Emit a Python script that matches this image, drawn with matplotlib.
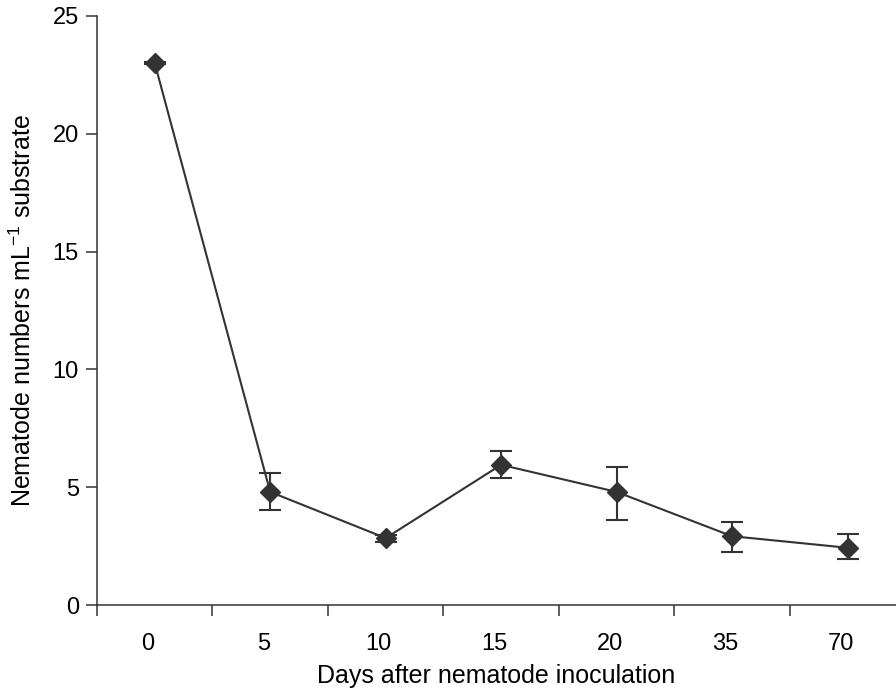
import matplotlib
matplotlib.use("Agg")
import matplotlib.pyplot as plt
import matplotlib.transforms as mtransforms
import numpy as np

plt.rcParams['font.family'] = ['Liberation Sans', 'DejaVu Sans']
plt.rcParams['mathtext.fontset'] = 'custom'
plt.rcParams['mathtext.rm'] = 'Liberation Sans'
plt.rcParams['mathtext.it'] = 'Liberation Sans:italic'

days = ["0", "5", "10", "15", "20", "35", "70"]
nematodes = [23.0, 4.8, 2.84, 5.95, 4.8, 2.92, 2.43]
err_low = [0.05, 0.78, 0.15, 0.56, 1.2, 0.67, 0.48]
err_high = [0.05, 0.8, 0.12, 0.6, 1.06, 0.6, 0.58]

dark = "#333333"

fig = plt.figure(figsize=(8.96, 6.97), dpi=100)
ax = fig.add_axes([97 / 896, 92 / 697, 799 / 896, 589 / 697])

x = np.arange(len(days))
ax.errorbar(x, nematodes, yerr=[err_low, err_high], color=dark, lw=1.5,
            marker='D', ms=10.5, mfc=dark, mec=dark, ecolor=dark,
            elinewidth=1.5, capsize=8, capthick=1.5, zorder=3)

ax.set_xlim(-0.5, 6.42)
ax.set_ylim(0, 25)
ax.set_yticks([0, 5, 10, 15, 20, 25])

ax.set_xticks(x)
ax.set_xticklabels(days)
ax.set_xticks(np.arange(-0.5, 6, 1), minor=True)
ax.tick_params(axis='x', which='major', length=0, pad=20, labelsize=17)
ax.tick_params(axis='x', which='minor', length=8, width=1.1, color=dark)
ax.tick_params(axis='y', length=8, width=1.1, color=dark, pad=5, labelsize=17)

# labels sit a little left of the category centres in the original
shift = mtransforms.ScaledTranslation(-7 / 100, 0, fig.dpi_scale_trans)
for lbl in ax.get_xticklabels():
    lbl.set_transform(lbl.get_transform() + shift)

for s in ['top', 'right']:
    ax.spines[s].set_visible(False)
for s in ['left', 'bottom']:
    ax.spines[s].set_color(dark)
    ax.spines[s].set_linewidth(1.1)

ax.set_xlabel("Days after nematode inoculation", fontsize=18)
ax.xaxis.set_label_coords(0.5, -0.1)
ax.set_ylabel("Nematode numbers mL$^{-1}$ substrate", fontsize=18)
ax.yaxis.set_label_coords(-0.076, 0.5)

fig.savefig("out.png", dpi=100)
